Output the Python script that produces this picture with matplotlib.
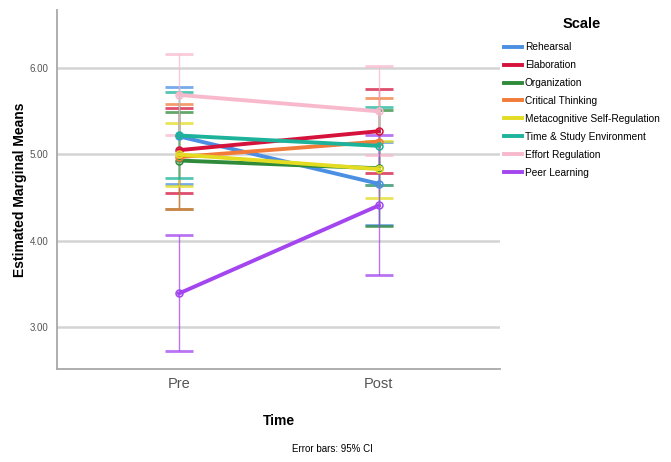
import matplotlib.pyplot as plt
from matplotlib.lines import Line2D
import numpy as np

# Data
times = ["Pre", "Post"]
scales = ["Rehearsal", "Elaboration", "Organization", "Critical Thinking",
          "Metacognitive Self-Regulation", "Time & Study Environment",
          "Effort Regulation", "Peer Learning"]
means_pre = [5.21, 5.05, 4.93, 4.97, 5.00, 5.22, 5.69, 3.39]
means_post = [4.66, 5.27, 4.84, 5.15, 4.83, 5.10, 5.50, 4.41]
low_pre = [4.66, 4.55, 4.37, 4.37, 4.63, 4.73, 5.22, 2.72]
high_pre = [5.78, 5.54, 5.49, 5.58, 5.37, 5.72, 6.16, 4.07]
low_post = [4.18, 4.78, 4.17, 4.65, 4.49, 4.65, 4.99, 3.60]
high_post = [5.14, 5.76, 5.51, 5.65, 5.16, 5.55, 6.02, 5.23]
colors = ["#4a8fe2", "#d4123c", "#2f8a3a", "#f27b3a",
          "#e3dc22", "#1cb39a", "#f8b9cd", "#a346ef"]

plt.rcParams["font.family"] = ["Liberation Sans", "DejaVu Sans"]

fig = plt.figure(figsize=(6.71, 4.62), dpi=100)
ax = fig.add_axes([0.085, 0.201, 0.66, 0.777])

x = np.arange(len(times))
for i, name in enumerate(scales):
    m = np.array([means_pre[i], means_post[i]])
    lo = np.array([low_pre[i], low_post[i]])
    hi = np.array([high_pre[i], high_post[i]])
    ax.errorbar(x, m, yerr=[m - lo, hi - m], fmt="none", ecolor=colors[i],
                elinewidth=1, capsize=10, capthick=2, alpha=0.75, zorder=2)
    ax.plot(x, m, color=colors[i], lw=2.8, marker="o", ms=5,
            mfc="none", mew=1.1, zorder=3, label=name)

ax.set_xlim(-0.61, 1.605)
ax.set_ylim(2.513, 6.672)
ax.set_xticks(x)
ax.set_xticklabels(times, fontsize=10.5, color="#555555")
ax.set_yticks([3, 4, 5, 6])
ax.set_yticklabels(["3.00", "4.00", "5.00", "6.00"], fontsize=7, color="#555555")
ax.tick_params(length=0, pad=6)
ax.grid(axis="y", color="#d4d4d4", lw=1.8)
ax.set_axisbelow(True)
for s in ["top", "right"]:
    ax.spines[s].set_visible(False)
for s in ["left", "bottom"]:
    ax.spines[s].set_color("#a8a8a8")
    ax.spines[s].set_linewidth(1.3)

ax.set_ylabel("Estimated Marginal Means", fontsize=10, fontweight="bold", labelpad=2)
ax.set_xlabel("Time", fontsize=10, fontweight="bold", labelpad=16)
fig.text(0.435, 0.022, "Error bars: 95% CI", fontsize=7)

leg_handles = [Line2D([], [], color=c, lw=2.8) for c in colors]
leg = fig.legend(leg_handles, scales, loc="upper left", bbox_to_anchor=(0.742, 0.976),
                 frameon=False, title="Scale", handlelength=1.8, handletextpad=0.25,
                 labelspacing=0.78, borderaxespad=0.2, prop={"size": 7.3})
leg.get_title().set_fontweight("bold")
leg.get_title().set_fontsize(10.5)
leg._legend_box.sep = 8

fig.savefig("out.png", dpi=100)
